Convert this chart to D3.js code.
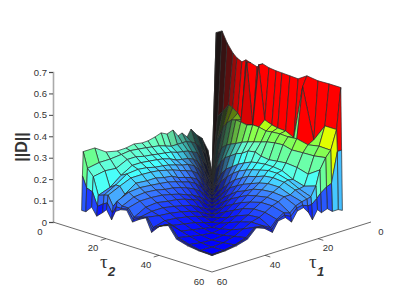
<!DOCTYPE html>
<html>
<head>
<meta charset="utf-8">
<script src="https://cdnjs.cloudflare.com/ajax/libs/d3/7.8.5/d3.min.js"></script>
<style>
  body { margin: 0; background: #fff; }
  svg { display: block; }
  text { font-family: "Liberation Sans", Arial, sans-serif; fill: #333; }
</style>
</head>
<body>
<svg id="svg" width="407" height="306"></svg>
<script>
// tau grid of the surface (same for both directions)
const tauGrid = [1,2.6,4.8,6.7,8.9,10.4,12.3,13.8,15.7,18,20.2,22.5,25.2,27.4,30.4,33.5,36.8,41,45.2,49.6,49.9,50.2];

// ||D|| values, row = tau1 index, column = tau2 index
const row00 = [0,.665,.681,.633,.594,.577,.566,.581,.574,.565,.587,.578,.574,.573,.571,.569,.596,.589,.591,.591,.30,.02];
const row01 = [.118,.01,.29,.32,.358,.35,.333,.307,.585,.30,.589,.341,.328,.322,.32,.30,.551,.319,.401,.401,.30,.03];
const row02 = [.181,.11,.005,.194,.259,.288,.31,.315,.313,.308,.317,.316,.308,.312,.315,.313,.317,.305,.315,.313,.16,.03];
const row03 = [.203,.15,.075,.004,.14,.18,.20,.21,.22,.235,.245,.254,.264,.273,.28,.283,.272,.275,.277,.286,.15,.05];
const row04 = [.239,.18,.12,.06,.002,.09,.13,.155,.17,.19,.20,.22,.226,.215,.21,.215,.22,.215,.20,.237,.13,.04];
const row05 = [.208,.19,.15,.09,.03,.002,.05,.085,.115,.135,.155,.17,.185,.19,.195,.195,.19,.165,.15,.168,.11,.06];
const row06 = [.234,.20,.16,.125,.07,.035,.002,.035,.065,.095,.12,.14,.155,.165,.175,.185,.185,.17,.145,.125,.09,.02];
const row07 = [.226,.20,.17,.14,.10,.06,.02,.002,.025,.05,.08,.105,.125,.14,.15,.165,.17,.165,.145,.12,.09,.06];
const row08 = [.261,.20,.175,.15,.125,.095,.05,.025,.001,.02,.045,.075,.095,.11,.125,.14,.15,.15,.13,.115,.10,.09];
const row09 = [.251,.20,.18,.155,.14,.115,.085,.055,.025,.001,.018,.04,.065,.085,.10,.12,.13,.135,.13,.105,.095,.083];
const row10 = [.265,.21,.19,.16,.145,.125,.10,.08,.05,.02,.001,.018,.04,.06,.08,.10,.11,.12,.115,.08,.065,.04];
const row11 = [.255,.22,.195,.175,.155,.135,.11,.095,.07,.04,.015,.001,.015,.035,.055,.075,.09,.105,.105,.09,.08,.07];
const row12 = [.247,.225,.20,.185,.165,.148,.12,.105,.085,.06,.045,.015,.001,.012,.03,.05,.07,.085,.085,.07,.068,.065];
const row13 = [.246,.23,.205,.19,.17,.155,.135,.115,.095,.07,.055,.03,.01,.001,.012,.025,.045,.065,.07,.04,.03,.02];
const row14 = [.253,.235,.21,.195,.175,.165,.14,.125,.105,.085,.07,.05,.03,.015,.001,.01,.025,.045,.06,.06,.055,.05];
const row15 = [.246,.24,.22,.20,.185,.17,.15,.13,.11,.095,.08,.06,.045,.03,.012,.001,.008,.02,.04,.065,.065,.065];
const row16 = [.245,.235,.22,.20,.19,.172,.15,.135,.12,.105,.085,.07,.055,.04,.025,.01,.001,.007,.018,.03,.028,.025];
const row17 = [.257,.23,.195,.17,.185,.172,.155,.14,.125,.11,.095,.08,.065,.05,.035,.02,.008,.001,.005,.012,.012,.01];
const row18 = [.292,.23,.20,.13,.15,.15,.12,.135,.12,.11,.09,.08,.07,.055,.045,.03,.018,.005,.001,.003,.003,.003];
const row19 = [.292,.22,.19,.11,.12,.125,.08,.11,.095,.095,.06,.07,.08,.04,.06,.08,.03,.014,.003,.001,.001,.001];
const row20 = [.18,.13,.12,.06,.08,.09,.05,.085,.085,.09,.05,.065,.08,.03,.06,.08,.028,.012,.003,.001,.001,.001];
const row21 = [.02,.02,.05,.015,.04,.06,.02,.065,.08,.087,.04,.06,.08,.02,.06,.08,.025,.01,.003,.001,.001,0];
const zValues = [row00,row01,row02,row03,row04,row05,row06,row07,row08,row09,row10,
                 row11,row12,row13,row14,row15,row16,row17,row18,row19,row20,row21];

const zTicks = [0,.1,.2,.3,.4,.5,.6,.7];
const tauTicks = [0,20,40,60];

// colour stops of the surface
const colorDomain = [0,.05,.09,.13,.15,.17,.19,.25,.29,.31,.33,.36,.40,.50,.54];
const colorRange = ['#0000ff','#0f1eff','#234bff','#3c82ff','#46aaff','#46d2ff','#46ffff','#6effc8','#69ff96',
                    '#78ff64','#aaff1e','#beff00','#e1ff00','#ff7800','#ff0000'];

const svg = d3.select('#svg');

// axonometric view: back corner at (212,172), front corner at (212,272)
const xTau = d3.scaleLinear().domain([0,60]).range([0,159]);
const yTau = d3.scaleLinear().domain([0,60]).range([0,50]);
const zScale = d3.scaleLinear().domain([0,.7]).range([222,72]);
const colorScale = d3.scaleLinear().domain(colorDomain).range(colorRange).clamp(true);
// the mesh is so dense near the origin and along the valley that it reads almost black
const coreShade = d3.scaleLinear().domain([2,13]).range([.1,1]).clamp(true);
const valleyFar = d3.scaleLinear().domain([0,10]).range([0,1]).clamp(true);
const valleyAlong = d3.scaleLinear().domain([0,32]).range([0,1]).clamp(true);

function px(t1,t2) { return 212 + xTau(t2) - xTau(t1); }
function py(t1,t2,z) { return 172 + yTau(t1) + yTau(t2) - (222 - zScale(z)); }

// z axis
const zAxis = svg.append('g')
  .attr('transform','translate(53,0)')
  .call(d3.axisLeft(zScale).tickValues(zTicks).tickSize(4).tickPadding(2).tickFormat(d3.format('')));
zAxis.select('.domain').attr('stroke','#aaa').attr('stroke-width',1.6);
zAxis.selectAll('.tick line').attr('stroke','#444');
zAxis.selectAll('.tick text').style('font-size','9.5px').attr('fill','#333');

// floor axes
svg.append('line').attr('x1',px(60,0)).attr('y1',py(60,0,0)).attr('x2',px(60,60)).attr('y2',py(60,60,0))
  .attr('stroke','#444').attr('stroke-width',.8);
svg.append('line').attr('x1',px(0,60)).attr('y1',py(0,60,0)).attr('x2',px(60,60)).attr('y2',py(60,60,0))
  .attr('stroke','#444').attr('stroke-width',.8);

tauTicks.forEach(function(t) {
  if (t > 0 && t < 60) {
    svg.append('line').attr('x1',px(60,t)).attr('y1',py(60,t,0)).attr('x2',px(62,t)).attr('y2',py(62,t,0))
      .attr('stroke','#444').attr('stroke-width',.8);
    svg.append('line').attr('x1',px(t,60)).attr('y1',py(t,60,0)).attr('x2',px(t,62)).attr('y2',py(t,62,0))
      .attr('stroke','#444').attr('stroke-width',.8);
  }
  svg.append('text').attr('x',px(60,t)-13).attr('y',py(60,t,0)+12.5)
    .attr('text-anchor','middle').style('font-size','9.5px').text(t);
  svg.append('text').attr('x',px(t,60)+10).attr('y',py(t,60,0)+12.5)
    .attr('text-anchor','middle').style('font-size','9.5px').text(t);
});

// surface, painted from the back corner to the front corner
const last = tauGrid.length - 2;
const cells = [];
d3.range(last+1).forEach(function(i) {
  d3.range(last+1).forEach(function(j) {
    cells.push({i:i,j:j});
  });
});

function cellColor(d) {
  let z = zValues[d.i][d.j];
  // the hanging lower tier of the rim takes the colour of its middle
  if (d.j === last) z = (z + zValues[d.i][d.j+1]) / 2;
  if (d.i === last) z = (z + zValues[d.i+1][d.j]) / 2;
  const ti = tauGrid[d.i], tj = tauGrid[d.j];
  // the red wall (first row) clears sooner than the mesh in front of it
  const k1 = coreShade(Math.max(ti,tj) * (d.i === 0 ? 1 : .7));
  const k2 = 1 - (1 - valleyFar(Math.abs(ti-tj))) * (1 - valleyAlong((ti+tj)/2));
  return d3.interpolateRgb('#151515',colorScale(z))(k1*k2);
}

svg.append('g').selectAll('path')
  .data(cells)
  .enter()
  .append('path')
  .attr('d',function(d) {
    const c = [[d.i,d.j],[d.i+1,d.j],[d.i+1,d.j+1],[d.i,d.j+1]];
    return d3.line()(c.map(function(p) {
      return [px(tauGrid[p[0]],tauGrid[p[1]]), py(tauGrid[p[0]],tauGrid[p[1]],zValues[p[0]][p[1]])];
    })) + 'Z';
  })
  .attr('fill',cellColor)
  .attr('stroke','#2a2a2a')
  .attr('stroke-width',.7)
  .attr('stroke-linejoin','round');

// axis titles
svg.append('text').attr('transform','translate(27,147) rotate(-90)')
  .attr('text-anchor','middle').style('font-size','16px').style('font-weight','bold').attr('fill','#111').text('||D||');
svg.append('text').attr('x',100).attr('y',268).style('font-family','"Liberation Serif",serif').style('font-size','19px').attr('fill','#111').text('τ');
svg.append('text').attr('x',108).attr('y',276).style('font-size','13px').style('font-weight','bold').style('font-style','italic').attr('fill','#111').text('2');
svg.append('text').attr('x',309).attr('y',268).style('font-family','"Liberation Serif",serif').style('font-size','19px').attr('fill','#111').text('τ');
svg.append('text').attr('x',317).attr('y',276).style('font-size','13px').style('font-weight','bold').style('font-style','italic').attr('fill','#111').text('1');
</script>
</body>
</html>
